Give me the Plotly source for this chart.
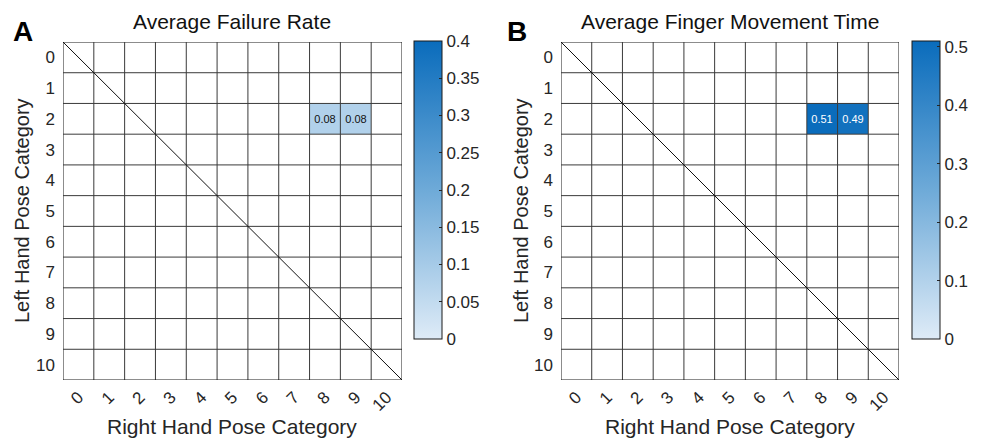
import numpy as np
import plotly.graph_objects as go

# ---- data ----
categories = list(range(11))  # pose categories 0..10
tick_labels = [str(c) for c in categories]

# non-empty cells: (left-hand row, right-hand col, value)
failure_rows = [2, 2]
failure_cols = [8, 9]
failure_vals = [0.08, 0.08]

movetime_rows = [2, 2]
movetime_cols = [8, 9]
movetime_vals = [0.51, 0.49]

failure_cbar_ticks = [0, 0.05, 0.1, 0.15, 0.2, 0.25, 0.3, 0.35, 0.4]
movetime_cbar_ticks = [0, 0.1, 0.2, 0.3, 0.4, 0.5]

titles = ["Average Failure Rate", "Average Finger Movement Time"]
panel_letters = ["A", "B"]


def build_matrix(rows, cols, vals):
    n = len(categories)
    z = np.full((n, n), np.nan)
    txt = [["" for _ in range(n)] for _ in range(n)]
    for r, c, v in zip(rows, cols, vals):
        z[r, c] = v
        txt[r][c] = f"{v:.2f}"
    return z, txt


z_a, t_a = build_matrix(failure_rows, failure_cols, failure_vals)
z_b, t_b = build_matrix(movetime_rows, movetime_cols, movetime_vals)

colorscale = [[0.0, "#deebf7"], [0.5, "#6eaad8"], [1.0, "#0a6cbc"]]
FONT = "Liberation Sans, Arial, Helvetica, sans-serif"
W, H = 984, 439

fig = go.Figure()


def cbar(x_px, ticks):
    return dict(
        x=x_px / W, xanchor="left", xpad=0,
        y=1 - 41 / H, yanchor="top", ypad=0,
        len=298 / H, lenmode="fraction",
        thickness=28, thicknessmode="pixels",
        outlinewidth=1, outlinecolor="#1a1a1a",
        tickvals=ticks, ticktext=[f"{t:g}" for t in ticks],
        ticks="inside", ticklen=3, tickcolor="#262626",
        tickfont=dict(family=FONT, size=17, color="#262626"),
    )


fig.add_trace(go.Heatmap(
    z=z_a, x=categories, y=categories, text=t_a, texttemplate="%{text}",
    textfont=dict(family=FONT, size=11, color="#111111"),
    colorscale=colorscale, zmin=0, zmax=0.4, hoverongaps=False,
    colorbar=cbar(414, failure_cbar_ticks), xaxis="x", yaxis="y",
))
fig.add_trace(go.Heatmap(
    z=z_b, x=categories, y=categories, text=t_b, texttemplate="%{text}",
    textfont=dict(family=FONT, size=11, color="#ffffff"),
    colorscale=colorscale, zmin=0, zmax=0.51, hoverongaps=False,
    colorbar=cbar(912, movetime_cbar_ticks), xaxis="x2", yaxis="y2",
))

ydom = [1 - 380 / H, 1 - 42 / H]
xdoms = [[63 / W, 402 / W], [561 / W, 899 / W]]
lo, hi = -0.5, len(categories) - 0.5

axis_common = dict(
    tickvals=categories, ticktext=tick_labels, showgrid=False, zeroline=False,
    ticks="", showline=False,
    tickfont=dict(family=FONT, size=17, color="#262626"),
)
fig.update_layout(
    xaxis=dict(domain=xdoms[0], range=[lo, hi], tickangle=-45, anchor="y",
               ticklabelstandoff=3, **axis_common),
    yaxis=dict(domain=ydom, range=[hi, lo], anchor="x", ticklabelstandoff=7, **axis_common),
    xaxis2=dict(domain=xdoms[1], range=[lo, hi], tickangle=-45, anchor="y2",
                ticklabelstandoff=3, **axis_common),
    yaxis2=dict(domain=ydom, range=[hi, lo], anchor="x2", ticklabelstandoff=7, **axis_common),
)

shapes = []
for xr, yr in [("x", "y"), ("x2", "y2")]:
    for k in range(len(categories) + 1):
        p = lo + k
        edge = k in (0, len(categories))
        col = "#1a1a1a" if edge else "#3a3a3a"
        shapes.append(dict(type="line", xref=xr, yref=yr, x0=p, x1=p, y0=lo, y1=hi,
                           line=dict(color=col, width=1)))
        shapes.append(dict(type="line", xref=xr, yref=yr, x0=lo, x1=hi, y0=p, y1=p,
                           line=dict(color=col, width=1)))
    # diagonal
    shapes.append(dict(type="line", xref=xr, yref=yr, x0=lo, y0=lo, x1=hi, y1=hi,
                       line=dict(color="#111111", width=1)))

annotations = []
centers = [232, 730]
left_title_x = [22, 521]
letter_x = [23, 517]
for i in range(2):
    annotations.append(dict(text=titles[i], x=centers[i] / W, y=1 - 22 / H, xref="paper", yref="paper",
                            showarrow=False, xanchor="center", yanchor="middle",
                            font=dict(family=FONT, size=21, color="#111111")))
    annotations.append(dict(text=f"<b>{panel_letters[i]}</b>", x=letter_x[i] / W, y=1 - 31 / H,
                            xref="paper", yref="paper", showarrow=False,
                            xanchor="center", yanchor="middle",
                            font=dict(family=FONT, size=28, color="#000000")))
    annotations.append(dict(text="Right Hand Pose Category", x=centers[i] / W, y=1 - 426 / H,
                            xref="paper", yref="paper", showarrow=False,
                            xanchor="center", yanchor="middle",
                            font=dict(family=FONT, size=21, color="#262626")))
    annotations.append(dict(text="Left Hand Pose Category", x=left_title_x[i] / W, y=1 - 211 / H,
                            xref="paper", yref="paper", showarrow=False, textangle=-90,
                            xanchor="center", yanchor="middle",
                            font=dict(family=FONT, size=20, color="#262626")))

fig.update_layout(
    width=W, height=H, margin=dict(l=0, r=0, t=0, b=0),
    paper_bgcolor="white", plot_bgcolor="white",
    shapes=shapes, annotations=annotations, showlegend=False,
)

fig.write_html("out.html")
